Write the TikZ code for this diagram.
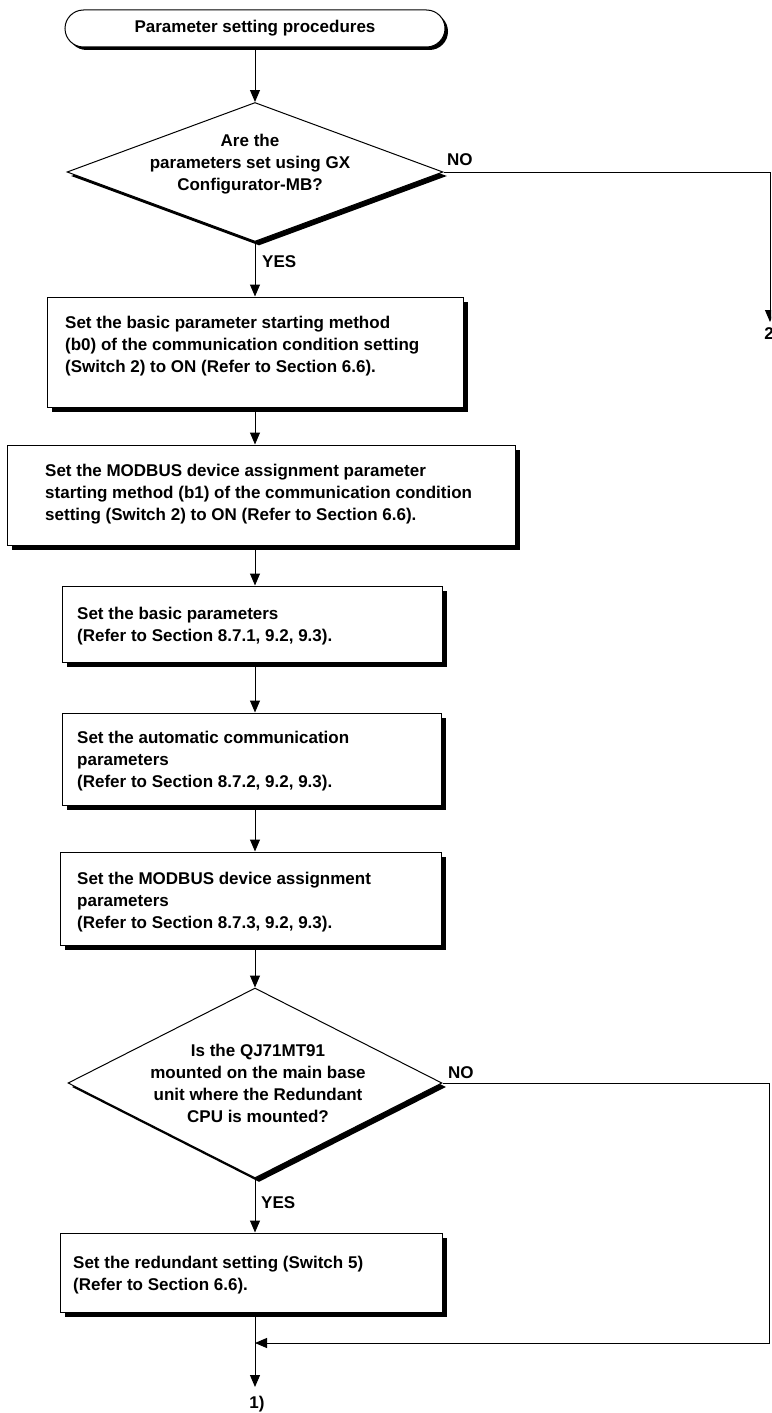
\documentclass[tikz,border=0pt]{standalone}
\usepackage{fontspec}
\setmainfont{Liberation Sans}
\usetikzlibrary{shapes.geometric,shapes.misc,shadows,arrows.meta,calc}
\begin{document}
\begin{tikzpicture}[x=1pt,y=-1pt,
  basefont/.style={font=\fontsize{17}{22}\selectfont\bfseries},
  boxshape/.style={draw=black, line width=1pt, fill=white, rectangle, inner sep=0pt,
    drop shadow={shadow xshift=5pt, shadow yshift=-5pt, fill=black, opacity=1}},
  dia/.style={draw=black, line width=1pt, fill=white, diamond, inner sep=0pt,
    drop shadow={shadow xshift=4pt, shadow yshift=-4pt, fill=black, opacity=1}},
  term/.style={draw=black, line width=1pt, fill=white, rounded rectangle, inner sep=0pt, basefont,
    drop shadow={shadow xshift=3pt, shadow yshift=-3pt, fill=black, opacity=1}},
  txt/.style={basefont, inner sep=0pt, align=left, anchor=north west},
  dtxt/.style={basefont, inner sep=0pt, align=center, anchor=north},
  lbl/.style={basefont, inner sep=0pt},
  conn/.style={line width=1pt, draw=black},
  arr/.style={conn, -{Triangle[length=12pt,width=10pt]}}
]
\useasboundingbox (0,0) rectangle (771,1413);
\clip (0,0) rectangle (771,1413);
\fill[white] (0,0) rectangle (771,1413);

\coordinate (ax) at (255,0);

% shapes
\node[term, minimum width=380, minimum height=37] (T) at (255,28.5) {Parameter setting procedures};

\node[dia, minimum width=376, minimum height=139] (D1) at (255,172) {};
\node[dtxt] (D1t) at (250,133.5) {Are the\\parameters set using GX\\Configurator-MB?};

\node[boxshape, minimum width=416, minimum height=110] (B1) at (255,352) {};
\node[txt] (B1t) at (65,315.5) {Set the basic parameter starting method\\(b0) of the communication condition setting\\(Switch 2) to ON (Refer to Section 6.6).};

\node[boxshape, minimum width=508, minimum height=100] (B2) at (261,495) {};
\node[txt] (B2t) at (45,463.5) {Set the MODBUS device assignment parameter\\starting method (b1) of the communication condition\\setting (Switch 2) to ON (Refer to Section 6.6).};

\node[boxshape, minimum width=380, minimum height=76] (B3) at (252,624) {};
\node[txt] (B3t) at (77,606.5) {Set the basic parameters\\(Refer to Section 8.7.1, 9.2, 9.3).};

\node[boxshape, minimum width=379, minimum height=92] (B4) at (251.5,759) {};
\node[txt] (B4t) at (77,730.5) {Set the automatic communication\\parameters\\(Refer to Section 8.7.2, 9.2, 9.3).};

\node[boxshape, minimum width=381, minimum height=93] (B5) at (250.5,898.5) {};
\node[txt] (B5t) at (77,871.5) {Set the MODBUS device assignment\\parameters\\(Refer to Section 8.7.3, 9.2, 9.3).};

\node[dia, minimum width=374, minimum height=190] (D2) at (255,1083) {};
\node[dtxt] (D2t) at (258,1043.5) {Is the QJ71MT91\\mounted on the main base\\unit where the Redundant\\CPU is mounted?};

\node[boxshape, minimum width=382, minimum height=79] (B6) at (251,1272.5) {};
\node[txt] (B6t) at (73,1255.5) {Set the redundant setting (Switch 5)\\(Refer to Section 6.6).};

% labels
\node[lbl, anchor=west] (no1) at (447,160) {NO};
\node[lbl, anchor=west] (yes1) at (262,262) {YES};
\node[lbl, anchor=west] (no2) at (448,1073) {NO};
\node[lbl, anchor=west] (yes2) at (261,1203) {YES};
\node[lbl] (two) at (772,335) {2)};
\node[lbl] (one) at (257,1404) {1)};

% connectors
\coordinate (c2) at (770,322);
\coordinate (rr) at (769,1083);
\coordinate (m) at (255,1343);
\coordinate (endp) at (255,1387);

\draw[arr] (T.south) -- (D1.north);
\draw[arr] (D1.east) -| (c2);
\draw[arr] (D1.south) -- (ax |- B1.north);
\draw[arr] (ax |- B1.south) -- (ax |- B2.north);
\draw[arr] (ax |- B2.south) -- (ax |- B3.north);
\draw[arr] (ax |- B3.south) -- (ax |- B4.north);
\draw[arr] (ax |- B4.south) -- (ax |- B5.north);
\draw[arr] (ax |- B5.south) -- (D2.north);
\draw[arr] (D2.south) -- (ax |- B6.north);
\draw[arr] (D2.east) -- (rr) -- (rr |- m) -- (m);
\draw[arr] (ax |- B6.south) -- (endp);
\end{tikzpicture}
\end{document}
